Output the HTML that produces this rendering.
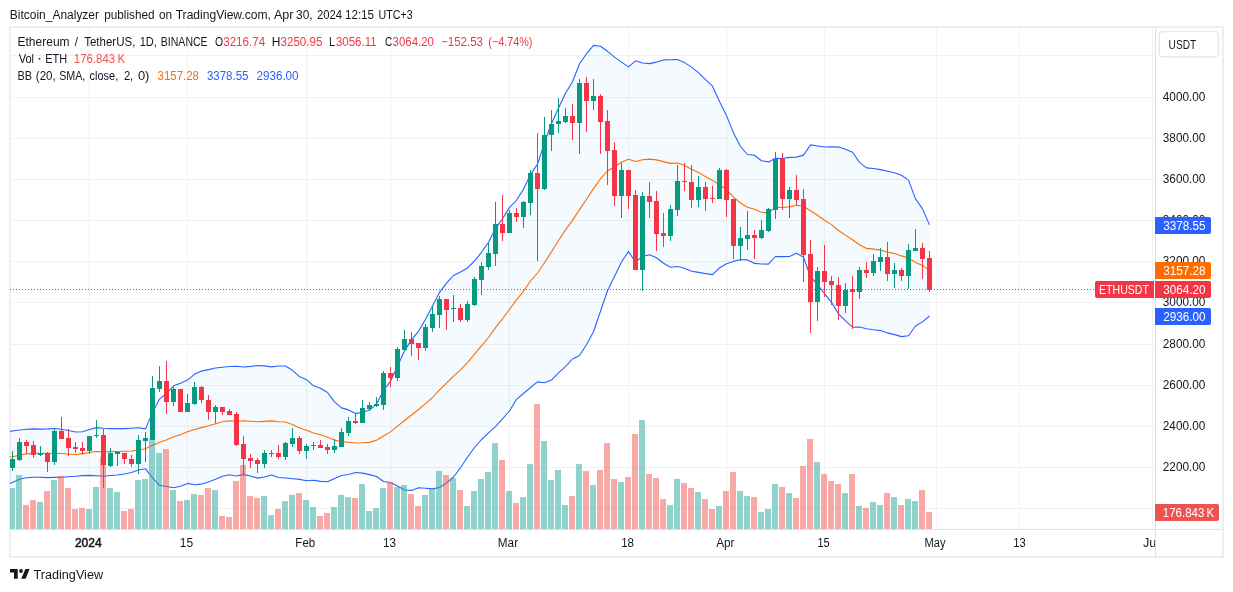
<!DOCTYPE html><html><head><meta charset="utf-8"><style>
html,body{margin:0;padding:0;background:#fff;}body{width:1233px;height:592px;overflow:hidden;}
svg{display:block;will-change:transform;font-family:"Liberation Sans", sans-serif;}
</style></head><body>
<svg width="1233" height="592" viewBox="0 0 1233 592">
<defs><clipPath id="pane"><rect x="10" y="28" width="1145" height="501"/></clipPath><clipPath id="taxis"><rect x="10" y="530" width="1145" height="26"/></clipPath></defs>
<rect width="1233" height="592" fill="#fff"/>
<text x="9.83" y="19.1" font-size="12.3" fill="#131722" textLength="89.18" lengthAdjust="spacingAndGlyphs">Bitcoin_Analyzer</text>
<text x="104.30" y="19.1" font-size="12.3" fill="#131722" textLength="50.23" lengthAdjust="spacingAndGlyphs">published</text>
<text x="159.00" y="19.1" font-size="12.3" fill="#131722" textLength="13.16" lengthAdjust="spacingAndGlyphs">on</text>
<text x="175.70" y="19.1" font-size="12.3" fill="#131722" textLength="95.24" lengthAdjust="spacingAndGlyphs">TradingView.com,</text>
<text x="273.90" y="19.1" font-size="12.3" fill="#131722" textLength="19.44" lengthAdjust="spacingAndGlyphs">Apr</text>
<text x="296.10" y="19.1" font-size="12.3" fill="#131722" textLength="16.57" lengthAdjust="spacingAndGlyphs">30,</text>
<text x="316.90" y="19.1" font-size="12.3" fill="#131722" textLength="25.13" lengthAdjust="spacingAndGlyphs">2024</text>
<text x="344.95" y="19.1" font-size="12.3" fill="#131722" textLength="29.14" lengthAdjust="spacingAndGlyphs">12:15</text>
<text x="378.60" y="19.1" font-size="12.3" fill="#131722" textLength="33.96" lengthAdjust="spacingAndGlyphs">UTC+3</text>
<rect x="10" y="27" width="1213" height="530" fill="none" stroke="#edeef2" stroke-width="2"/>
<g clip-path="url(#pane)" shape-rendering="crispEdges">
<rect x="10" y="55" width="1145" height="1" fill="#f0f2f2"/>
<rect x="10" y="97" width="1145" height="1" fill="#f0f2f2"/>
<rect x="10" y="138" width="1145" height="1" fill="#f0f2f2"/>
<rect x="10" y="179" width="1145" height="1" fill="#f0f2f2"/>
<rect x="10" y="220" width="1145" height="1" fill="#f0f2f2"/>
<rect x="10" y="261" width="1145" height="1" fill="#f0f2f2"/>
<rect x="10" y="302" width="1145" height="1" fill="#f0f2f2"/>
<rect x="10" y="344" width="1145" height="1" fill="#f0f2f2"/>
<rect x="10" y="385" width="1145" height="1" fill="#f0f2f2"/>
<rect x="10" y="426" width="1145" height="1" fill="#f0f2f2"/>
<rect x="10" y="467" width="1145" height="1" fill="#f0f2f2"/>
<rect x="10" y="508" width="1145" height="1" fill="#f0f2f2"/>
<rect x="89" y="28" width="1" height="501" fill="#f0f2f2"/>
<rect x="187" y="28" width="1" height="501" fill="#f0f2f2"/>
<rect x="306" y="28" width="1" height="501" fill="#f0f2f2"/>
<rect x="390" y="28" width="1" height="501" fill="#f0f2f2"/>
<rect x="509" y="28" width="1" height="501" fill="#f0f2f2"/>
<rect x="628" y="28" width="1" height="501" fill="#f0f2f2"/>
<rect x="726" y="28" width="1" height="501" fill="#f0f2f2"/>
<rect x="824" y="28" width="1" height="501" fill="#f0f2f2"/>
<rect x="936" y="28" width="1" height="501" fill="#f0f2f2"/>
<rect x="1019" y="28" width="1" height="501" fill="#f0f2f2"/>
<rect x="1152" y="28" width="1" height="501" fill="#f0f2f2"/>
</g>
<g clip-path="url(#pane)">
<polygon points="9,431.5 12.5,431.0 19.5,430.0 26.5,429.3 33.5,428.9 40.5,429.1 47.5,428.9 54.5,428.5 61.5,429.3 68.5,430.5 75.5,432.0 82.5,431.7 89.5,429.5 96.5,427.6 103.5,428.2 110.5,428.6 117.5,428.6 124.5,428.6 131.5,428.2 138.5,427.8 145.5,428.9 152.5,412.6 159.5,399.1 166.5,393.5 173.5,385.8 180.5,383.2 187.5,380.1 194.5,374.3 201.5,371.1 208.5,369.6 215.5,368.0 222.5,367.3 229.5,366.5 236.5,366.3 243.5,367.0 250.5,366.4 257.5,365.5 264.5,365.9 271.5,366.9 278.5,366.0 285.5,366.0 292.5,370.3 299.5,376.6 306.5,379.7 313.5,385.8 320.5,388.3 327.5,392.5 334.5,401.8 341.5,407.9 348.5,409.9 355.5,413.4 362.5,412.5 369.5,410.1 376.5,404.1 383.5,390.5 390.5,381.2 397.5,366.2 404.5,350.9 411.5,339.6 418.5,331.3 425.5,319.3 432.5,306.1 439.5,292.4 446.5,283.2 453.5,275.5 460.5,271.9 467.5,267.9 474.5,261.0 481.5,252.3 488.5,242.3 495.5,228.6 502.5,218.8 509.5,207.4 516.5,200.3 523.5,189.1 530.5,174.6 537.5,164.1 544.5,142.8 551.5,123.5 558.5,108.1 565.5,93.3 572.5,81.8 579.5,63.7 586.5,53.7 593.5,45.4 600.5,46.2 607.5,51.3 614.5,57.1 621.5,62.1 628.5,66.9 635.5,60.8 642.5,63.0 649.5,63.6 656.5,62.1 663.5,59.9 670.5,59.7 677.5,59.6 684.5,62.6 691.5,67.1 698.5,72.6 705.5,79.6 712.5,86.2 719.5,101.5 726.5,115.6 733.5,132.9 740.5,146.5 747.5,154.5 754.5,155.3 761.5,160.7 768.5,161.9 775.5,158.3 782.5,158.5 789.5,157.4 796.5,157.1 803.5,155.1 810.5,144.9 817.5,146.0 824.5,147.0 831.5,146.7 838.5,147.1 845.5,149.3 852.5,152.2 859.5,162.4 866.5,167.9 873.5,168.5 880.5,169.6 887.5,171.2 894.5,172.7 901.5,175.2 908.5,180.1 915.5,198.9 922.5,208.9 929.5,224.9 929.5,316.0 922.5,321.9 915.5,326.0 908.5,335.8 901.5,336.6 894.5,334.6 887.5,332.9 880.5,330.6 873.5,329.8 866.5,328.8 859.5,327.0 852.5,327.2 845.5,320.9 838.5,313.9 831.5,302.4 824.5,293.6 817.5,284.7 810.5,276.7 803.5,257.3 796.5,253.3 789.5,256.5 782.5,256.6 775.5,256.5 768.5,264.1 761.5,264.0 754.5,263.4 747.5,259.9 740.5,259.5 733.5,261.4 726.5,263.7 719.5,268.0 712.5,274.6 705.5,273.6 698.5,272.4 691.5,271.3 684.5,268.3 677.5,266.5 670.5,267.2 663.5,263.3 656.5,257.8 649.5,254.7 642.5,256.4 635.5,262.2 628.5,251.5 621.5,262.0 614.5,276.6 607.5,290.7 600.5,311.2 593.5,331.8 586.5,344.7 579.5,355.5 572.5,359.0 565.5,366.6 558.5,372.9 551.5,380.1 544.5,382.8 537.5,381.9 530.5,387.5 523.5,393.5 516.5,399.3 509.5,411.0 502.5,418.8 495.5,426.6 488.5,432.8 481.5,439.5 474.5,447.5 467.5,457.2 460.5,467.8 453.5,477.0 446.5,483.0 439.5,487.5 432.5,488.9 425.5,488.2 418.5,487.8 411.5,490.4 404.5,490.0 397.5,486.1 390.5,482.5 383.5,481.5 376.5,476.5 369.5,474.6 362.5,473.1 355.5,472.5 348.5,474.5 341.5,475.5 334.5,478.4 327.5,481.8 320.5,481.4 313.5,480.2 306.5,480.7 299.5,479.4 292.5,478.7 285.5,478.0 278.5,477.5 271.5,475.0 264.5,477.0 257.5,478.1 250.5,476.0 243.5,474.6 236.5,476.0 229.5,474.8 222.5,476.2 215.5,479.3 208.5,481.9 201.5,484.1 194.5,484.7 187.5,483.4 180.5,486.2 173.5,487.7 166.5,486.5 159.5,485.3 152.5,477.9 145.5,468.8 138.5,470.0 131.5,472.5 124.5,474.0 117.5,475.0 110.5,475.5 103.5,476.2 96.5,475.8 89.5,475.4 82.5,475.6 75.5,476.3 68.5,476.8 61.5,477.2 54.5,477.4 47.5,477.6 40.5,477.3 33.5,477.3 26.5,477.8 19.5,479.2 12.5,482.5 9,483.8" fill="rgba(33,150,243,0.05)"/>
<polyline points="9,431.5 12.5,431.0 19.5,430.0 26.5,429.3 33.5,428.9 40.5,429.1 47.5,428.9 54.5,428.5 61.5,429.3 68.5,430.5 75.5,432.0 82.5,431.7 89.5,429.5 96.5,427.6 103.5,428.2 110.5,428.6 117.5,428.6 124.5,428.6 131.5,428.2 138.5,427.8 145.5,428.9 152.5,412.6 159.5,399.1 166.5,393.5 173.5,385.8 180.5,383.2 187.5,380.1 194.5,374.3 201.5,371.1 208.5,369.6 215.5,368.0 222.5,367.3 229.5,366.5 236.5,366.3 243.5,367.0 250.5,366.4 257.5,365.5 264.5,365.9 271.5,366.9 278.5,366.0 285.5,366.0 292.5,370.3 299.5,376.6 306.5,379.7 313.5,385.8 320.5,388.3 327.5,392.5 334.5,401.8 341.5,407.9 348.5,409.9 355.5,413.4 362.5,412.5 369.5,410.1 376.5,404.1 383.5,390.5 390.5,381.2 397.5,366.2 404.5,350.9 411.5,339.6 418.5,331.3 425.5,319.3 432.5,306.1 439.5,292.4 446.5,283.2 453.5,275.5 460.5,271.9 467.5,267.9 474.5,261.0 481.5,252.3 488.5,242.3 495.5,228.6 502.5,218.8 509.5,207.4 516.5,200.3 523.5,189.1 530.5,174.6 537.5,164.1 544.5,142.8 551.5,123.5 558.5,108.1 565.5,93.3 572.5,81.8 579.5,63.7 586.5,53.7 593.5,45.4 600.5,46.2 607.5,51.3 614.5,57.1 621.5,62.1 628.5,66.9 635.5,60.8 642.5,63.0 649.5,63.6 656.5,62.1 663.5,59.9 670.5,59.7 677.5,59.6 684.5,62.6 691.5,67.1 698.5,72.6 705.5,79.6 712.5,86.2 719.5,101.5 726.5,115.6 733.5,132.9 740.5,146.5 747.5,154.5 754.5,155.3 761.5,160.7 768.5,161.9 775.5,158.3 782.5,158.5 789.5,157.4 796.5,157.1 803.5,155.1 810.5,144.9 817.5,146.0 824.5,147.0 831.5,146.7 838.5,147.1 845.5,149.3 852.5,152.2 859.5,162.4 866.5,167.9 873.5,168.5 880.5,169.6 887.5,171.2 894.5,172.7 901.5,175.2 908.5,180.1 915.5,198.9 922.5,208.9 929.5,224.9" fill="none" stroke="#2962FF" stroke-width="1.1" stroke-linejoin="round"/>
<polyline points="9,483.8 12.5,482.5 19.5,479.2 26.5,477.8 33.5,477.3 40.5,477.3 47.5,477.6 54.5,477.4 61.5,477.2 68.5,476.8 75.5,476.3 82.5,475.6 89.5,475.4 96.5,475.8 103.5,476.2 110.5,475.5 117.5,475.0 124.5,474.0 131.5,472.5 138.5,470.0 145.5,468.8 152.5,477.9 159.5,485.3 166.5,486.5 173.5,487.7 180.5,486.2 187.5,483.4 194.5,484.7 201.5,484.1 208.5,481.9 215.5,479.3 222.5,476.2 229.5,474.8 236.5,476.0 243.5,474.6 250.5,476.0 257.5,478.1 264.5,477.0 271.5,475.0 278.5,477.5 285.5,478.0 292.5,478.7 299.5,479.4 306.5,480.7 313.5,480.2 320.5,481.4 327.5,481.8 334.5,478.4 341.5,475.5 348.5,474.5 355.5,472.5 362.5,473.1 369.5,474.6 376.5,476.5 383.5,481.5 390.5,482.5 397.5,486.1 404.5,490.0 411.5,490.4 418.5,487.8 425.5,488.2 432.5,488.9 439.5,487.5 446.5,483.0 453.5,477.0 460.5,467.8 467.5,457.2 474.5,447.5 481.5,439.5 488.5,432.8 495.5,426.6 502.5,418.8 509.5,411.0 516.5,399.3 523.5,393.5 530.5,387.5 537.5,381.9 544.5,382.8 551.5,380.1 558.5,372.9 565.5,366.6 572.5,359.0 579.5,355.5 586.5,344.7 593.5,331.8 600.5,311.2 607.5,290.7 614.5,276.6 621.5,262.0 628.5,251.5 635.5,262.2 642.5,256.4 649.5,254.7 656.5,257.8 663.5,263.3 670.5,267.2 677.5,266.5 684.5,268.3 691.5,271.3 698.5,272.4 705.5,273.6 712.5,274.6 719.5,268.0 726.5,263.7 733.5,261.4 740.5,259.5 747.5,259.9 754.5,263.4 761.5,264.0 768.5,264.1 775.5,256.5 782.5,256.6 789.5,256.5 796.5,253.3 803.5,257.3 810.5,276.7 817.5,284.7 824.5,293.6 831.5,302.4 838.5,313.9 845.5,320.9 852.5,327.2 859.5,327.0 866.5,328.8 873.5,329.8 880.5,330.6 887.5,332.9 894.5,334.6 901.5,336.6 908.5,335.8 915.5,326.0 922.5,321.9 929.5,316.0" fill="none" stroke="#2962FF" stroke-width="1.1" stroke-linejoin="round"/>
<polyline points="9,457.2 12.5,456.7 19.5,455.3 26.5,453.9 33.5,453.4 40.5,453.5 47.5,453.2 54.5,453.3 61.5,453.5 68.5,454.0 75.5,454.5 82.5,453.6 89.5,452.5 96.5,451.5 103.5,451.8 110.5,451.6 117.5,451.5 124.5,451.3 131.5,451.0 138.5,450.0 145.5,448.8 152.5,445.3 159.5,442.2 166.5,440.0 173.5,436.8 180.5,434.7 187.5,431.7 194.5,429.5 201.5,427.6 208.5,425.8 215.5,423.7 222.5,421.7 229.5,420.7 236.5,421.2 243.5,420.8 250.5,421.2 257.5,421.8 264.5,421.4 271.5,420.9 278.5,421.8 285.5,422.0 292.5,424.5 299.5,428.0 306.5,430.2 313.5,433.0 320.5,434.8 327.5,437.2 334.5,440.1 341.5,441.7 348.5,442.2 355.5,443.0 362.5,442.8 369.5,442.4 376.5,440.3 383.5,436.0 390.5,431.9 397.5,426.1 404.5,420.5 411.5,415.0 418.5,409.5 425.5,403.7 432.5,397.5 439.5,389.9 446.5,383.1 453.5,376.2 460.5,369.8 467.5,362.6 474.5,354.2 481.5,345.9 488.5,337.5 495.5,327.6 502.5,318.8 509.5,309.2 516.5,299.8 523.5,291.3 530.5,281.0 537.5,273.0 544.5,262.8 551.5,251.8 558.5,240.5 565.5,229.9 572.5,220.4 579.5,209.6 586.5,199.2 593.5,188.6 600.5,178.7 607.5,171.0 614.5,166.8 621.5,162.0 628.5,159.2 635.5,161.5 642.5,159.7 649.5,159.1 656.5,159.9 663.5,161.6 670.5,163.4 677.5,163.0 684.5,165.4 691.5,169.2 698.5,172.5 705.5,176.6 712.5,180.4 719.5,184.8 726.5,189.7 733.5,197.2 740.5,203.0 747.5,207.2 754.5,209.3 761.5,212.3 768.5,213.0 775.5,207.4 782.5,207.5 789.5,206.9 796.5,205.2 803.5,206.2 810.5,210.8 817.5,215.3 824.5,220.3 831.5,224.6 838.5,230.5 845.5,235.1 852.5,239.7 859.5,244.7 866.5,248.4 873.5,249.1 880.5,250.1 887.5,252.0 894.5,253.6 901.5,255.9 908.5,258.0 915.5,262.4 922.5,265.4 929.5,270.4" fill="none" stroke="#FF6D00" stroke-width="1.1" stroke-linejoin="round"/>
</g>
<g clip-path="url(#pane)" shape-rendering="crispEdges">
<rect x="9" y="488" width="6" height="41" fill="rgba(38,166,154,0.5)"/>
<rect x="16" y="475" width="6" height="54" fill="rgba(38,166,154,0.5)"/>
<rect x="23" y="505" width="6" height="24" fill="rgba(239,83,80,0.5)"/>
<rect x="30" y="500" width="6" height="29" fill="rgba(239,83,80,0.5)"/>
<rect x="37" y="502" width="6" height="27" fill="rgba(38,166,154,0.5)"/>
<rect x="44" y="491" width="6" height="38" fill="rgba(239,83,80,0.5)"/>
<rect x="51" y="480" width="6" height="49" fill="rgba(38,166,154,0.5)"/>
<rect x="58" y="476" width="6" height="53" fill="rgba(239,83,80,0.5)"/>
<rect x="65" y="488" width="6" height="41" fill="rgba(239,83,80,0.5)"/>
<rect x="72" y="509" width="6" height="20" fill="rgba(239,83,80,0.5)"/>
<rect x="79" y="508" width="6" height="21" fill="rgba(239,83,80,0.5)"/>
<rect x="86" y="509" width="6" height="20" fill="rgba(38,166,154,0.5)"/>
<rect x="93" y="487" width="6" height="42" fill="rgba(38,166,154,0.5)"/>
<rect x="100" y="457" width="6" height="72" fill="rgba(239,83,80,0.5)"/>
<rect x="107" y="488" width="6" height="41" fill="rgba(38,166,154,0.5)"/>
<rect x="114" y="492" width="6" height="37" fill="rgba(38,166,154,0.5)"/>
<rect x="121" y="511" width="6" height="18" fill="rgba(239,83,80,0.5)"/>
<rect x="128" y="509" width="6" height="20" fill="rgba(239,83,80,0.5)"/>
<rect x="135" y="480" width="6" height="49" fill="rgba(38,166,154,0.5)"/>
<rect x="142" y="479" width="6" height="50" fill="rgba(38,166,154,0.5)"/>
<rect x="149" y="439" width="6" height="90" fill="rgba(38,166,154,0.5)"/>
<rect x="156" y="453" width="6" height="76" fill="rgba(38,166,154,0.5)"/>
<rect x="163" y="449" width="6" height="80" fill="rgba(239,83,80,0.5)"/>
<rect x="170" y="490" width="6" height="39" fill="rgba(38,166,154,0.5)"/>
<rect x="177" y="501" width="6" height="28" fill="rgba(239,83,80,0.5)"/>
<rect x="184" y="500" width="6" height="29" fill="rgba(38,166,154,0.5)"/>
<rect x="191" y="494" width="6" height="35" fill="rgba(38,166,154,0.5)"/>
<rect x="198" y="495" width="6" height="34" fill="rgba(239,83,80,0.5)"/>
<rect x="205" y="488" width="6" height="41" fill="rgba(239,83,80,0.5)"/>
<rect x="212" y="490" width="6" height="39" fill="rgba(38,166,154,0.5)"/>
<rect x="219" y="516" width="6" height="13" fill="rgba(239,83,80,0.5)"/>
<rect x="226" y="517" width="6" height="12" fill="rgba(239,83,80,0.5)"/>
<rect x="233" y="481" width="6" height="48" fill="rgba(239,83,80,0.5)"/>
<rect x="240" y="465" width="6" height="64" fill="rgba(239,83,80,0.5)"/>
<rect x="247" y="496" width="6" height="33" fill="rgba(239,83,80,0.5)"/>
<rect x="254" y="498" width="6" height="31" fill="rgba(239,83,80,0.5)"/>
<rect x="261" y="496" width="6" height="33" fill="rgba(38,166,154,0.5)"/>
<rect x="268" y="515" width="6" height="14" fill="rgba(38,166,154,0.5)"/>
<rect x="275" y="509" width="6" height="20" fill="rgba(239,83,80,0.5)"/>
<rect x="282" y="501" width="6" height="28" fill="rgba(38,166,154,0.5)"/>
<rect x="289" y="495" width="6" height="34" fill="rgba(38,166,154,0.5)"/>
<rect x="296" y="493" width="6" height="36" fill="rgba(239,83,80,0.5)"/>
<rect x="303" y="500" width="6" height="29" fill="rgba(38,166,154,0.5)"/>
<rect x="310" y="507" width="6" height="22" fill="rgba(38,166,154,0.5)"/>
<rect x="317" y="516" width="6" height="13" fill="rgba(239,83,80,0.5)"/>
<rect x="324" y="513" width="6" height="16" fill="rgba(239,83,80,0.5)"/>
<rect x="331" y="507" width="6" height="22" fill="rgba(38,166,154,0.5)"/>
<rect x="338" y="495" width="6" height="34" fill="rgba(38,166,154,0.5)"/>
<rect x="345" y="497" width="6" height="32" fill="rgba(38,166,154,0.5)"/>
<rect x="352" y="498" width="6" height="31" fill="rgba(239,83,80,0.5)"/>
<rect x="359" y="484" width="6" height="45" fill="rgba(38,166,154,0.5)"/>
<rect x="366" y="511" width="6" height="18" fill="rgba(38,166,154,0.5)"/>
<rect x="373" y="508" width="6" height="21" fill="rgba(38,166,154,0.5)"/>
<rect x="380" y="488" width="6" height="41" fill="rgba(38,166,154,0.5)"/>
<rect x="387" y="482" width="6" height="47" fill="rgba(239,83,80,0.5)"/>
<rect x="394" y="487" width="6" height="42" fill="rgba(38,166,154,0.5)"/>
<rect x="401" y="485" width="6" height="44" fill="rgba(38,166,154,0.5)"/>
<rect x="408" y="494" width="6" height="35" fill="rgba(239,83,80,0.5)"/>
<rect x="415" y="506" width="6" height="23" fill="rgba(239,83,80,0.5)"/>
<rect x="422" y="495" width="6" height="34" fill="rgba(38,166,154,0.5)"/>
<rect x="429" y="489" width="6" height="40" fill="rgba(38,166,154,0.5)"/>
<rect x="436" y="471" width="6" height="58" fill="rgba(38,166,154,0.5)"/>
<rect x="443" y="475" width="6" height="54" fill="rgba(239,83,80,0.5)"/>
<rect x="450" y="478" width="6" height="51" fill="rgba(38,166,154,0.5)"/>
<rect x="457" y="490" width="6" height="39" fill="rgba(239,83,80,0.5)"/>
<rect x="464" y="506" width="6" height="23" fill="rgba(38,166,154,0.5)"/>
<rect x="471" y="491" width="6" height="38" fill="rgba(38,166,154,0.5)"/>
<rect x="478" y="479" width="6" height="50" fill="rgba(38,166,154,0.5)"/>
<rect x="485" y="472" width="6" height="57" fill="rgba(38,166,154,0.5)"/>
<rect x="492" y="443" width="6" height="86" fill="rgba(38,166,154,0.5)"/>
<rect x="499" y="460" width="6" height="69" fill="rgba(239,83,80,0.5)"/>
<rect x="506" y="491" width="6" height="38" fill="rgba(38,166,154,0.5)"/>
<rect x="513" y="503" width="6" height="26" fill="rgba(239,83,80,0.5)"/>
<rect x="520" y="497" width="6" height="32" fill="rgba(38,166,154,0.5)"/>
<rect x="527" y="464" width="6" height="65" fill="rgba(38,166,154,0.5)"/>
<rect x="534" y="404" width="6" height="125" fill="rgba(239,83,80,0.5)"/>
<rect x="541" y="441" width="6" height="88" fill="rgba(38,166,154,0.5)"/>
<rect x="548" y="480" width="6" height="49" fill="rgba(38,166,154,0.5)"/>
<rect x="555" y="470" width="6" height="59" fill="rgba(38,166,154,0.5)"/>
<rect x="562" y="505" width="6" height="24" fill="rgba(38,166,154,0.5)"/>
<rect x="569" y="496" width="6" height="33" fill="rgba(239,83,80,0.5)"/>
<rect x="576" y="464" width="6" height="65" fill="rgba(38,166,154,0.5)"/>
<rect x="583" y="471" width="6" height="58" fill="rgba(239,83,80,0.5)"/>
<rect x="590" y="485" width="6" height="44" fill="rgba(38,166,154,0.5)"/>
<rect x="597" y="470" width="6" height="59" fill="rgba(239,83,80,0.5)"/>
<rect x="604" y="443" width="6" height="86" fill="rgba(239,83,80,0.5)"/>
<rect x="611" y="479" width="6" height="50" fill="rgba(239,83,80,0.5)"/>
<rect x="618" y="482" width="6" height="47" fill="rgba(38,166,154,0.5)"/>
<rect x="625" y="477" width="6" height="52" fill="rgba(239,83,80,0.5)"/>
<rect x="632" y="434" width="6" height="95" fill="rgba(239,83,80,0.5)"/>
<rect x="639" y="420" width="6" height="109" fill="rgba(38,166,154,0.5)"/>
<rect x="646" y="474" width="6" height="55" fill="rgba(239,83,80,0.5)"/>
<rect x="653" y="478" width="6" height="51" fill="rgba(239,83,80,0.5)"/>
<rect x="660" y="499" width="6" height="30" fill="rgba(239,83,80,0.5)"/>
<rect x="667" y="505" width="6" height="24" fill="rgba(38,166,154,0.5)"/>
<rect x="674" y="479" width="6" height="50" fill="rgba(38,166,154,0.5)"/>
<rect x="681" y="483" width="6" height="46" fill="rgba(239,83,80,0.5)"/>
<rect x="688" y="488" width="6" height="41" fill="rgba(239,83,80,0.5)"/>
<rect x="695" y="492" width="6" height="37" fill="rgba(38,166,154,0.5)"/>
<rect x="702" y="499" width="6" height="30" fill="rgba(239,83,80,0.5)"/>
<rect x="709" y="509" width="6" height="20" fill="rgba(239,83,80,0.5)"/>
<rect x="716" y="506" width="6" height="23" fill="rgba(38,166,154,0.5)"/>
<rect x="723" y="491" width="6" height="38" fill="rgba(239,83,80,0.5)"/>
<rect x="730" y="472" width="6" height="57" fill="rgba(239,83,80,0.5)"/>
<rect x="737" y="491" width="6" height="38" fill="rgba(38,166,154,0.5)"/>
<rect x="744" y="496" width="6" height="33" fill="rgba(38,166,154,0.5)"/>
<rect x="751" y="497" width="6" height="32" fill="rgba(239,83,80,0.5)"/>
<rect x="758" y="512" width="6" height="17" fill="rgba(38,166,154,0.5)"/>
<rect x="765" y="509" width="6" height="20" fill="rgba(38,166,154,0.5)"/>
<rect x="772" y="484" width="6" height="45" fill="rgba(38,166,154,0.5)"/>
<rect x="779" y="487" width="6" height="42" fill="rgba(239,83,80,0.5)"/>
<rect x="786" y="493" width="6" height="36" fill="rgba(38,166,154,0.5)"/>
<rect x="793" y="498" width="6" height="31" fill="rgba(239,83,80,0.5)"/>
<rect x="800" y="466" width="6" height="63" fill="rgba(239,83,80,0.5)"/>
<rect x="807" y="439" width="6" height="90" fill="rgba(239,83,80,0.5)"/>
<rect x="814" y="462" width="6" height="67" fill="rgba(38,166,154,0.5)"/>
<rect x="821" y="474" width="6" height="55" fill="rgba(239,83,80,0.5)"/>
<rect x="828" y="481" width="6" height="48" fill="rgba(239,83,80,0.5)"/>
<rect x="835" y="484" width="6" height="45" fill="rgba(239,83,80,0.5)"/>
<rect x="842" y="493" width="6" height="36" fill="rgba(38,166,154,0.5)"/>
<rect x="849" y="474" width="6" height="55" fill="rgba(239,83,80,0.5)"/>
<rect x="856" y="506" width="6" height="23" fill="rgba(38,166,154,0.5)"/>
<rect x="863" y="508" width="6" height="21" fill="rgba(239,83,80,0.5)"/>
<rect x="870" y="502" width="6" height="27" fill="rgba(38,166,154,0.5)"/>
<rect x="877" y="505" width="6" height="24" fill="rgba(38,166,154,0.5)"/>
<rect x="884" y="493" width="6" height="36" fill="rgba(239,83,80,0.5)"/>
<rect x="891" y="497" width="6" height="32" fill="rgba(38,166,154,0.5)"/>
<rect x="898" y="505" width="6" height="24" fill="rgba(239,83,80,0.5)"/>
<rect x="905" y="499" width="6" height="30" fill="rgba(38,166,154,0.5)"/>
<rect x="912" y="501" width="6" height="28" fill="rgba(38,166,154,0.5)"/>
<rect x="919" y="490" width="6" height="39" fill="rgba(239,83,80,0.5)"/>
<rect x="926" y="512" width="6" height="17" fill="rgba(239,83,80,0.5)"/>
<rect x="12" y="451" width="1" height="20" fill="#089981"/>
<rect x="10" y="459" width="5" height="9" fill="#089981"/>
<rect x="19" y="438" width="1" height="23" fill="#089981"/>
<rect x="17" y="442" width="5" height="18" fill="#089981"/>
<rect x="26" y="440" width="1" height="14" fill="#F23645"/>
<rect x="24" y="442" width="5" height="4" fill="#F23645"/>
<rect x="33" y="441" width="1" height="17" fill="#F23645"/>
<rect x="31" y="445" width="5" height="10" fill="#F23645"/>
<rect x="40" y="446" width="1" height="10" fill="#089981"/>
<rect x="38" y="453" width="5" height="2" fill="#089981"/>
<rect x="47" y="452" width="1" height="20" fill="#F23645"/>
<rect x="45" y="453" width="5" height="9" fill="#F23645"/>
<rect x="54" y="428" width="1" height="37" fill="#089981"/>
<rect x="52" y="431" width="5" height="31" fill="#089981"/>
<rect x="61" y="417" width="1" height="22" fill="#F23645"/>
<rect x="59" y="431" width="5" height="8" fill="#F23645"/>
<rect x="68" y="429" width="1" height="27" fill="#F23645"/>
<rect x="66" y="438" width="5" height="10" fill="#F23645"/>
<rect x="75" y="442" width="1" height="11" fill="#F23645"/>
<rect x="73" y="447" width="5" height="2" fill="#F23645"/>
<rect x="82" y="442" width="1" height="13" fill="#F23645"/>
<rect x="80" y="448" width="5" height="3" fill="#F23645"/>
<rect x="89" y="436" width="1" height="18" fill="#089981"/>
<rect x="87" y="436" width="5" height="15" fill="#089981"/>
<rect x="96" y="420" width="1" height="18" fill="#089981"/>
<rect x="94" y="435" width="5" height="1" fill="#089981"/>
<rect x="103" y="429" width="1" height="59" fill="#F23645"/>
<rect x="101" y="435" width="5" height="30" fill="#F23645"/>
<rect x="110" y="448" width="1" height="19" fill="#089981"/>
<rect x="108" y="453" width="5" height="13" fill="#089981"/>
<rect x="117" y="451" width="1" height="15" fill="#089981"/>
<rect x="115" y="452" width="5" height="2" fill="#089981"/>
<rect x="124" y="453" width="1" height="11" fill="#F23645"/>
<rect x="122" y="453" width="5" height="6" fill="#F23645"/>
<rect x="131" y="455" width="1" height="12" fill="#F23645"/>
<rect x="129" y="459" width="5" height="5" fill="#F23645"/>
<rect x="138" y="435" width="1" height="39" fill="#089981"/>
<rect x="136" y="440" width="5" height="24" fill="#089981"/>
<rect x="145" y="432" width="1" height="30" fill="#089981"/>
<rect x="143" y="438" width="5" height="3" fill="#089981"/>
<rect x="152" y="376" width="1" height="64" fill="#089981"/>
<rect x="150" y="388" width="5" height="52" fill="#089981"/>
<rect x="159" y="366" width="1" height="26" fill="#089981"/>
<rect x="157" y="381" width="5" height="8" fill="#089981"/>
<rect x="166" y="361" width="1" height="53" fill="#F23645"/>
<rect x="164" y="381" width="5" height="21" fill="#F23645"/>
<rect x="173" y="387" width="1" height="19" fill="#089981"/>
<rect x="171" y="389" width="5" height="13" fill="#089981"/>
<rect x="180" y="389" width="1" height="23" fill="#F23645"/>
<rect x="178" y="389" width="5" height="23" fill="#F23645"/>
<rect x="187" y="394" width="1" height="18" fill="#089981"/>
<rect x="185" y="403" width="5" height="9" fill="#089981"/>
<rect x="194" y="382" width="1" height="23" fill="#089981"/>
<rect x="192" y="387" width="5" height="17" fill="#089981"/>
<rect x="201" y="386" width="1" height="17" fill="#F23645"/>
<rect x="199" y="387" width="5" height="13" fill="#F23645"/>
<rect x="208" y="395" width="1" height="25" fill="#F23645"/>
<rect x="206" y="400" width="5" height="12" fill="#F23645"/>
<rect x="215" y="405" width="1" height="18" fill="#089981"/>
<rect x="213" y="407" width="5" height="5" fill="#089981"/>
<rect x="222" y="407" width="1" height="8" fill="#F23645"/>
<rect x="220" y="407" width="5" height="5" fill="#F23645"/>
<rect x="229" y="409" width="1" height="6" fill="#F23645"/>
<rect x="227" y="411" width="5" height="4" fill="#F23645"/>
<rect x="236" y="412" width="1" height="34" fill="#F23645"/>
<rect x="234" y="414" width="5" height="31" fill="#F23645"/>
<rect x="243" y="436" width="1" height="38" fill="#F23645"/>
<rect x="241" y="444" width="5" height="15" fill="#F23645"/>
<rect x="250" y="454" width="1" height="14" fill="#F23645"/>
<rect x="248" y="458" width="5" height="3" fill="#F23645"/>
<rect x="257" y="458" width="1" height="15" fill="#F23645"/>
<rect x="255" y="460" width="5" height="4" fill="#F23645"/>
<rect x="264" y="450" width="1" height="18" fill="#089981"/>
<rect x="262" y="453" width="5" height="11" fill="#089981"/>
<rect x="271" y="450" width="1" height="7" fill="#089981"/>
<rect x="269" y="453" width="5" height="1" fill="#089981"/>
<rect x="278" y="445" width="1" height="14" fill="#F23645"/>
<rect x="276" y="453" width="5" height="4" fill="#F23645"/>
<rect x="285" y="442" width="1" height="18" fill="#089981"/>
<rect x="283" y="443" width="5" height="14" fill="#089981"/>
<rect x="292" y="428" width="1" height="19" fill="#089981"/>
<rect x="290" y="438" width="5" height="6" fill="#089981"/>
<rect x="299" y="436" width="1" height="18" fill="#F23645"/>
<rect x="297" y="438" width="5" height="13" fill="#F23645"/>
<rect x="306" y="444" width="1" height="15" fill="#089981"/>
<rect x="304" y="446" width="5" height="5" fill="#089981"/>
<rect x="313" y="442" width="1" height="8" fill="#089981"/>
<rect x="311" y="445" width="5" height="1" fill="#089981"/>
<rect x="320" y="440" width="1" height="8" fill="#F23645"/>
<rect x="318" y="445" width="5" height="3" fill="#F23645"/>
<rect x="327" y="444" width="1" height="10" fill="#F23645"/>
<rect x="325" y="447" width="5" height="3" fill="#F23645"/>
<rect x="334" y="439" width="1" height="14" fill="#089981"/>
<rect x="332" y="446" width="5" height="4" fill="#089981"/>
<rect x="341" y="428" width="1" height="19" fill="#089981"/>
<rect x="339" y="432" width="5" height="15" fill="#089981"/>
<rect x="348" y="417" width="1" height="19" fill="#089981"/>
<rect x="346" y="421" width="5" height="12" fill="#089981"/>
<rect x="355" y="413" width="1" height="11" fill="#F23645"/>
<rect x="353" y="421" width="5" height="2" fill="#F23645"/>
<rect x="362" y="400" width="1" height="23" fill="#089981"/>
<rect x="360" y="408" width="5" height="15" fill="#089981"/>
<rect x="369" y="402" width="1" height="9" fill="#089981"/>
<rect x="367" y="405" width="5" height="4" fill="#089981"/>
<rect x="376" y="397" width="1" height="10" fill="#089981"/>
<rect x="374" y="404" width="5" height="2" fill="#089981"/>
<rect x="383" y="371" width="1" height="39" fill="#089981"/>
<rect x="381" y="373" width="5" height="32" fill="#089981"/>
<rect x="390" y="367" width="1" height="20" fill="#F23645"/>
<rect x="388" y="373" width="5" height="5" fill="#F23645"/>
<rect x="397" y="347" width="1" height="34" fill="#089981"/>
<rect x="395" y="349" width="5" height="29" fill="#089981"/>
<rect x="404" y="330" width="1" height="21" fill="#089981"/>
<rect x="402" y="339" width="5" height="11" fill="#089981"/>
<rect x="411" y="332" width="1" height="24" fill="#F23645"/>
<rect x="409" y="339" width="5" height="5" fill="#F23645"/>
<rect x="418" y="343" width="1" height="17" fill="#F23645"/>
<rect x="416" y="343" width="5" height="5" fill="#F23645"/>
<rect x="425" y="324" width="1" height="27" fill="#089981"/>
<rect x="423" y="327" width="5" height="21" fill="#089981"/>
<rect x="432" y="306" width="1" height="26" fill="#089981"/>
<rect x="430" y="314" width="5" height="14" fill="#089981"/>
<rect x="439" y="296" width="1" height="32" fill="#089981"/>
<rect x="437" y="299" width="5" height="16" fill="#089981"/>
<rect x="446" y="299" width="1" height="31" fill="#F23645"/>
<rect x="444" y="299" width="5" height="11" fill="#F23645"/>
<rect x="453" y="295" width="1" height="27" fill="#089981"/>
<rect x="451" y="308" width="5" height="1" fill="#089981"/>
<rect x="460" y="304" width="1" height="18" fill="#F23645"/>
<rect x="458" y="308" width="5" height="12" fill="#F23645"/>
<rect x="467" y="301" width="1" height="21" fill="#089981"/>
<rect x="465" y="304" width="5" height="16" fill="#089981"/>
<rect x="474" y="277" width="1" height="29" fill="#089981"/>
<rect x="472" y="279" width="5" height="26" fill="#089981"/>
<rect x="481" y="262" width="1" height="33" fill="#089981"/>
<rect x="479" y="266" width="5" height="14" fill="#089981"/>
<rect x="488" y="243" width="1" height="27" fill="#089981"/>
<rect x="486" y="253" width="5" height="14" fill="#089981"/>
<rect x="495" y="202" width="1" height="64" fill="#089981"/>
<rect x="493" y="224" width="5" height="30" fill="#089981"/>
<rect x="502" y="195" width="1" height="46" fill="#F23645"/>
<rect x="500" y="224" width="5" height="9" fill="#F23645"/>
<rect x="509" y="210" width="1" height="23" fill="#089981"/>
<rect x="507" y="213" width="5" height="20" fill="#089981"/>
<rect x="516" y="208" width="1" height="14" fill="#F23645"/>
<rect x="514" y="213" width="5" height="4" fill="#F23645"/>
<rect x="523" y="201" width="1" height="27" fill="#089981"/>
<rect x="521" y="202" width="5" height="15" fill="#089981"/>
<rect x="530" y="170" width="1" height="45" fill="#089981"/>
<rect x="528" y="173" width="5" height="30" fill="#089981"/>
<rect x="537" y="133" width="1" height="128" fill="#F23645"/>
<rect x="535" y="173" width="5" height="16" fill="#F23645"/>
<rect x="544" y="117" width="1" height="73" fill="#089981"/>
<rect x="542" y="135" width="5" height="54" fill="#089981"/>
<rect x="551" y="110" width="1" height="41" fill="#089981"/>
<rect x="549" y="124" width="5" height="11" fill="#089981"/>
<rect x="558" y="98" width="1" height="35" fill="#089981"/>
<rect x="556" y="121" width="5" height="3" fill="#089981"/>
<rect x="565" y="108" width="1" height="15" fill="#089981"/>
<rect x="563" y="116" width="5" height="6" fill="#089981"/>
<rect x="572" y="104" width="1" height="36" fill="#F23645"/>
<rect x="570" y="116" width="5" height="7" fill="#F23645"/>
<rect x="579" y="79" width="1" height="75" fill="#089981"/>
<rect x="577" y="83" width="5" height="40" fill="#089981"/>
<rect x="586" y="77" width="1" height="55" fill="#F23645"/>
<rect x="584" y="83" width="5" height="18" fill="#F23645"/>
<rect x="593" y="79" width="1" height="31" fill="#089981"/>
<rect x="591" y="96" width="5" height="5" fill="#089981"/>
<rect x="600" y="94" width="1" height="60" fill="#F23645"/>
<rect x="598" y="96" width="5" height="26" fill="#F23645"/>
<rect x="607" y="110" width="1" height="75" fill="#F23645"/>
<rect x="605" y="121" width="5" height="30" fill="#F23645"/>
<rect x="614" y="142" width="1" height="64" fill="#F23645"/>
<rect x="612" y="150" width="5" height="46" fill="#F23645"/>
<rect x="621" y="163" width="1" height="55" fill="#089981"/>
<rect x="619" y="170" width="5" height="26" fill="#089981"/>
<rect x="628" y="170" width="1" height="39" fill="#F23645"/>
<rect x="626" y="170" width="5" height="26" fill="#F23645"/>
<rect x="635" y="190" width="1" height="80" fill="#F23645"/>
<rect x="633" y="195" width="5" height="75" fill="#F23645"/>
<rect x="642" y="192" width="1" height="99" fill="#089981"/>
<rect x="640" y="196" width="5" height="74" fill="#089981"/>
<rect x="649" y="182" width="1" height="36" fill="#F23645"/>
<rect x="647" y="196" width="5" height="6" fill="#F23645"/>
<rect x="656" y="191" width="1" height="60" fill="#F23645"/>
<rect x="654" y="201" width="5" height="33" fill="#F23645"/>
<rect x="663" y="213" width="1" height="34" fill="#F23645"/>
<rect x="661" y="233" width="5" height="3" fill="#F23645"/>
<rect x="670" y="205" width="1" height="36" fill="#089981"/>
<rect x="668" y="209" width="5" height="27" fill="#089981"/>
<rect x="677" y="165" width="1" height="51" fill="#089981"/>
<rect x="675" y="181" width="5" height="29" fill="#089981"/>
<rect x="684" y="163" width="1" height="28" fill="#F23645"/>
<rect x="682" y="181" width="5" height="1" fill="#F23645"/>
<rect x="691" y="165" width="1" height="43" fill="#F23645"/>
<rect x="689" y="182" width="5" height="18" fill="#F23645"/>
<rect x="698" y="176" width="1" height="31" fill="#089981"/>
<rect x="696" y="187" width="5" height="13" fill="#089981"/>
<rect x="705" y="182" width="1" height="29" fill="#F23645"/>
<rect x="703" y="187" width="5" height="12" fill="#F23645"/>
<rect x="712" y="186" width="1" height="17" fill="#F23645"/>
<rect x="710" y="198" width="5" height="1" fill="#F23645"/>
<rect x="719" y="168" width="1" height="31" fill="#089981"/>
<rect x="717" y="170" width="5" height="29" fill="#089981"/>
<rect x="726" y="169" width="1" height="48" fill="#F23645"/>
<rect x="724" y="170" width="5" height="30" fill="#F23645"/>
<rect x="733" y="199" width="1" height="60" fill="#F23645"/>
<rect x="731" y="199" width="5" height="47" fill="#F23645"/>
<rect x="740" y="227" width="1" height="34" fill="#089981"/>
<rect x="738" y="238" width="5" height="8" fill="#089981"/>
<rect x="747" y="211" width="1" height="39" fill="#089981"/>
<rect x="745" y="235" width="5" height="4" fill="#089981"/>
<rect x="754" y="230" width="1" height="29" fill="#F23645"/>
<rect x="752" y="235" width="5" height="3" fill="#F23645"/>
<rect x="761" y="220" width="1" height="19" fill="#089981"/>
<rect x="759" y="230" width="5" height="8" fill="#089981"/>
<rect x="768" y="208" width="1" height="24" fill="#089981"/>
<rect x="766" y="209" width="5" height="22" fill="#089981"/>
<rect x="775" y="152" width="1" height="67" fill="#089981"/>
<rect x="773" y="159" width="5" height="51" fill="#089981"/>
<rect x="782" y="153" width="1" height="57" fill="#F23645"/>
<rect x="780" y="159" width="5" height="40" fill="#F23645"/>
<rect x="789" y="187" width="1" height="31" fill="#089981"/>
<rect x="787" y="190" width="5" height="9" fill="#089981"/>
<rect x="796" y="175" width="1" height="30" fill="#F23645"/>
<rect x="794" y="190" width="5" height="10" fill="#F23645"/>
<rect x="803" y="189" width="1" height="93" fill="#F23645"/>
<rect x="801" y="199" width="5" height="56" fill="#F23645"/>
<rect x="810" y="240" width="1" height="93" fill="#F23645"/>
<rect x="808" y="254" width="5" height="48" fill="#F23645"/>
<rect x="817" y="267" width="1" height="54" fill="#089981"/>
<rect x="815" y="271" width="5" height="31" fill="#089981"/>
<rect x="824" y="245" width="1" height="52" fill="#F23645"/>
<rect x="822" y="271" width="5" height="11" fill="#F23645"/>
<rect x="831" y="276" width="1" height="29" fill="#F23645"/>
<rect x="829" y="281" width="5" height="4" fill="#F23645"/>
<rect x="838" y="277" width="1" height="43" fill="#F23645"/>
<rect x="836" y="285" width="5" height="21" fill="#F23645"/>
<rect x="845" y="283" width="1" height="30" fill="#089981"/>
<rect x="843" y="290" width="5" height="16" fill="#089981"/>
<rect x="852" y="276" width="1" height="53" fill="#F23645"/>
<rect x="850" y="289" width="5" height="3" fill="#F23645"/>
<rect x="859" y="267" width="1" height="32" fill="#089981"/>
<rect x="857" y="270" width="5" height="22" fill="#089981"/>
<rect x="866" y="262" width="1" height="16" fill="#F23645"/>
<rect x="864" y="270" width="5" height="3" fill="#F23645"/>
<rect x="873" y="254" width="1" height="22" fill="#089981"/>
<rect x="871" y="261" width="5" height="12" fill="#089981"/>
<rect x="880" y="248" width="1" height="23" fill="#089981"/>
<rect x="878" y="257" width="5" height="5" fill="#089981"/>
<rect x="887" y="242" width="1" height="39" fill="#F23645"/>
<rect x="885" y="257" width="5" height="17" fill="#F23645"/>
<rect x="894" y="263" width="1" height="25" fill="#089981"/>
<rect x="892" y="270" width="5" height="4" fill="#089981"/>
<rect x="901" y="268" width="1" height="13" fill="#F23645"/>
<rect x="899" y="270" width="5" height="6" fill="#F23645"/>
<rect x="908" y="244" width="1" height="45" fill="#089981"/>
<rect x="906" y="250" width="5" height="26" fill="#089981"/>
<rect x="915" y="229" width="1" height="22" fill="#089981"/>
<rect x="913" y="248" width="5" height="3" fill="#089981"/>
<rect x="922" y="243" width="1" height="36" fill="#F23645"/>
<rect x="920" y="248" width="5" height="11" fill="#F23645"/>
<rect x="929" y="251" width="1" height="41" fill="#F23645"/>
<rect x="927" y="258" width="5" height="32" fill="#F23645"/>
<line x1="10" y1="289.5" x2="1095" y2="289.5" stroke="#F23645" stroke-width="1" stroke-dasharray="1 2"/>
</g>
<rect x="1155" y="28" width="1" height="528" fill="#e0e0e3"/>
<rect x="10" y="529" width="1212" height="1" fill="#e0e0e3"/>
<text x="1162.80" y="101" font-size="12.3" fill="#131722" textLength="42.63" lengthAdjust="spacingAndGlyphs">4000.00</text>
<text x="1162.80" y="142" font-size="12.3" fill="#131722" textLength="42.63" lengthAdjust="spacingAndGlyphs">3800.00</text>
<text x="1162.80" y="183" font-size="12.3" fill="#131722" textLength="42.63" lengthAdjust="spacingAndGlyphs">3600.00</text>
<text x="1162.80" y="224" font-size="12.3" fill="#131722" textLength="42.63" lengthAdjust="spacingAndGlyphs">3400.00</text>
<text x="1162.80" y="265" font-size="12.3" fill="#131722" textLength="42.63" lengthAdjust="spacingAndGlyphs">3200.00</text>
<text x="1162.80" y="306" font-size="12.3" fill="#131722" textLength="42.63" lengthAdjust="spacingAndGlyphs">3000.00</text>
<text x="1162.80" y="348" font-size="12.3" fill="#131722" textLength="42.63" lengthAdjust="spacingAndGlyphs">2800.00</text>
<text x="1162.80" y="389" font-size="12.3" fill="#131722" textLength="42.63" lengthAdjust="spacingAndGlyphs">2600.00</text>
<text x="1162.80" y="430" font-size="12.3" fill="#131722" textLength="42.63" lengthAdjust="spacingAndGlyphs">2400.00</text>
<text x="1162.80" y="471" font-size="12.3" fill="#131722" textLength="42.63" lengthAdjust="spacingAndGlyphs">2200.00</text>
<rect x="1159.25" y="31.45" width="59.3" height="25.4" rx="3.5" fill="#fff" stroke="#e8e9ef" stroke-width="1.5"/>
<text x="1168.60" y="48.9" font-size="12.3" fill="#131722" textLength="27.60" lengthAdjust="spacingAndGlyphs">USDT</text>
<path d="M1155,217 h54 a2,2 0 0 1 2,2 v13 a2,2 0 0 1 -2,2 h-54 z" fill="#2962FF"/>
<text x="1163.20" y="229.9" font-size="12.3" fill="#fff" textLength="42.33" lengthAdjust="spacingAndGlyphs">3378.55</text>
<path d="M1155,262 h54 a2,2 0 0 1 2,2 v13 a2,2 0 0 1 -2,2 h-54 z" fill="#FF6D00"/>
<text x="1163.20" y="274.9" font-size="12.3" fill="#fff" textLength="42.33" lengthAdjust="spacingAndGlyphs">3157.28</text>
<path d="M1155,281 h54 a2,2 0 0 1 2,2 v13 a2,2 0 0 1 -2,2 h-54 z" fill="#F23645"/>
<text x="1163.20" y="293.9" font-size="12.3" fill="#fff" textLength="42.33" lengthAdjust="spacingAndGlyphs">3064.20</text>
<path d="M1155,308 h54 a2,2 0 0 1 2,2 v13 a2,2 0 0 1 -2,2 h-54 z" fill="#2962FF"/>
<text x="1163.20" y="320.9" font-size="12.3" fill="#fff" textLength="42.33" lengthAdjust="spacingAndGlyphs">2936.00</text>
<path d="M1097,281 h57 v17 h-57 a2,2 0 0 1 -2,-2 v-13 a2,2 0 0 1 2,-2 z" fill="#F23645"/>
<text x="1099.04" y="293.6" font-size="12.3" fill="#fff" textLength="49.93" lengthAdjust="spacingAndGlyphs">ETHUSDT</text>
<path d="M1155,504 h62 a2,2 0 0 1 2,2 v13 a2,2 0 0 1 -2,2 h-62 z" fill="#ef5350"/>
<text x="1162.76" y="516.9" font-size="12.3" fill="#fff" textLength="51.55" lengthAdjust="spacingAndGlyphs">176.843 K</text>
<text x="74.90" y="547.2" font-size="12.3" fill="#131722" textLength="26.68" lengthAdjust="spacingAndGlyphs" stroke="#131722" stroke-width="0.5" clip-path="url(#taxis)">2024</text>
<text x="179.72" y="547.2" font-size="12.3" fill="#131722" textLength="13.35" lengthAdjust="spacingAndGlyphs" clip-path="url(#taxis)">15</text>
<text x="295.36" y="547.2" font-size="12.3" fill="#131722" textLength="19.93" lengthAdjust="spacingAndGlyphs" clip-path="url(#taxis)">Feb</text>
<text x="382.95" y="547.2" font-size="12.3" fill="#131722" textLength="13.00" lengthAdjust="spacingAndGlyphs" clip-path="url(#taxis)">13</text>
<text x="497.85" y="547.2" font-size="12.3" fill="#131722" textLength="20.23" lengthAdjust="spacingAndGlyphs" clip-path="url(#taxis)">Mar</text>
<text x="621.16" y="547.2" font-size="12.3" fill="#131722" textLength="12.89" lengthAdjust="spacingAndGlyphs" clip-path="url(#taxis)">18</text>
<text x="716.20" y="547.2" font-size="12.3" fill="#131722" textLength="18.33" lengthAdjust="spacingAndGlyphs" clip-path="url(#taxis)">Apr</text>
<text x="817.51" y="547.2" font-size="12.3" fill="#131722" textLength="12.20" lengthAdjust="spacingAndGlyphs" clip-path="url(#taxis)">15</text>
<text x="924.39" y="547.2" font-size="12.3" fill="#131722" textLength="21.12" lengthAdjust="spacingAndGlyphs" clip-path="url(#taxis)">May</text>
<text x="1013.28" y="547.2" font-size="12.3" fill="#131722" textLength="12.55" lengthAdjust="spacingAndGlyphs" clip-path="url(#taxis)">13</text>
<text x="1143.00" y="547.2" font-size="12.3" fill="#131722" textLength="20.35" lengthAdjust="spacingAndGlyphs" clip-path="url(#taxis)">Jun</text>
<text x="17.52" y="45.9" font-size="12.3" fill="#131722" textLength="52.10" lengthAdjust="spacingAndGlyphs">Ethereum</text>
<text x="74.70" y="45.9" font-size="12.3" fill="#131722" textLength="3.17" lengthAdjust="spacingAndGlyphs">/</text>
<text x="84.20" y="45.9" font-size="12.3" fill="#131722" textLength="51.24" lengthAdjust="spacingAndGlyphs">TetherUS,</text>
<text x="139.70" y="45.9" font-size="12.3" fill="#131722" textLength="17.23" lengthAdjust="spacingAndGlyphs">1D,</text>
<text x="160.85" y="45.9" font-size="12.3" fill="#131722" textLength="46.73" lengthAdjust="spacingAndGlyphs">BINANCE</text>
<text x="215.00" y="45.9" font-size="12.3" fill="#131722" textLength="8.09" lengthAdjust="spacingAndGlyphs">O</text>
<text x="223.20" y="45.9" font-size="12.3" fill="#F23645" textLength="42.03" lengthAdjust="spacingAndGlyphs">3216.74</text>
<text x="271.83" y="45.9" font-size="12.3" fill="#131722" textLength="8.64" lengthAdjust="spacingAndGlyphs">H</text>
<text x="280.50" y="45.9" font-size="12.3" fill="#F23645" textLength="41.93" lengthAdjust="spacingAndGlyphs">3250.95</text>
<text x="329.02" y="45.9" font-size="12.3" fill="#131722" textLength="6.05" lengthAdjust="spacingAndGlyphs">L</text>
<text x="335.90" y="45.9" font-size="12.3" fill="#F23645" textLength="40.71" lengthAdjust="spacingAndGlyphs">3056.11</text>
<text x="384.90" y="45.9" font-size="12.3" fill="#131722" textLength="7.21" lengthAdjust="spacingAndGlyphs">C</text>
<text x="392.60" y="45.9" font-size="12.3" fill="#F23645" textLength="41.32" lengthAdjust="spacingAndGlyphs">3064.20</text>
<text x="441.06" y="45.9" font-size="12.3" fill="#F23645" textLength="41.95" lengthAdjust="spacingAndGlyphs">−152.53</text>
<text x="488.30" y="45.9" font-size="12.3" fill="#F23645" textLength="44.12" lengthAdjust="spacingAndGlyphs">(−4.74%)</text>
<text x="18.70" y="63.2" font-size="12.3" fill="#131722" textLength="15.40" lengthAdjust="spacingAndGlyphs">Vol</text>
<text x="45.21" y="63.2" font-size="12.3" fill="#131722" textLength="21.93" lengthAdjust="spacingAndGlyphs">ETH</text>
<rect x="38.8" y="58" width="1.5" height="1.5" fill="#131722"/>
<text x="73.87" y="63.2" font-size="12.3" fill="#ef5350" textLength="51.14" lengthAdjust="spacingAndGlyphs">176.843 K</text>
<text x="17.41" y="80" font-size="12.3" fill="#131722" textLength="14.55" lengthAdjust="spacingAndGlyphs">BB</text>
<text x="35.80" y="80" font-size="12.3" fill="#131722" textLength="19.93" lengthAdjust="spacingAndGlyphs">(20,</text>
<text x="59.13" y="80" font-size="12.3" fill="#131722" textLength="26.21" lengthAdjust="spacingAndGlyphs">SMA,</text>
<text x="89.50" y="80" font-size="12.3" fill="#131722" textLength="28.81" lengthAdjust="spacingAndGlyphs">close,</text>
<text x="123.90" y="80" font-size="12.3" fill="#131722" textLength="9.35" lengthAdjust="spacingAndGlyphs">2,</text>
<text x="137.90" y="80" font-size="12.3" fill="#131722" textLength="11.48" lengthAdjust="spacingAndGlyphs">0)</text>
<text x="157.60" y="80" font-size="12.3" fill="#FF6D00" textLength="41.32" lengthAdjust="spacingAndGlyphs">3157.28</text>
<text x="206.90" y="80" font-size="12.3" fill="#2962FF" textLength="41.52" lengthAdjust="spacingAndGlyphs">3378.55</text>
<text x="256.40" y="80" font-size="12.3" fill="#2962FF" textLength="42.23" lengthAdjust="spacingAndGlyphs">2936.00</text>
<g fill="#131722">
<path d="M10,569 h7.7 v9.7 h-3.7 v-6.1 h-4 z"/>
<circle cx="21" cy="571" r="1.9"/>
<path d="M25.4,569 h4.2 l-4,9.7 h-4.4 z"/>
</g>
<text x="33.50" y="578.6" font-size="12.3" fill="#131722" textLength="69.56" lengthAdjust="spacingAndGlyphs">TradingView</text>
</svg></body></html>
